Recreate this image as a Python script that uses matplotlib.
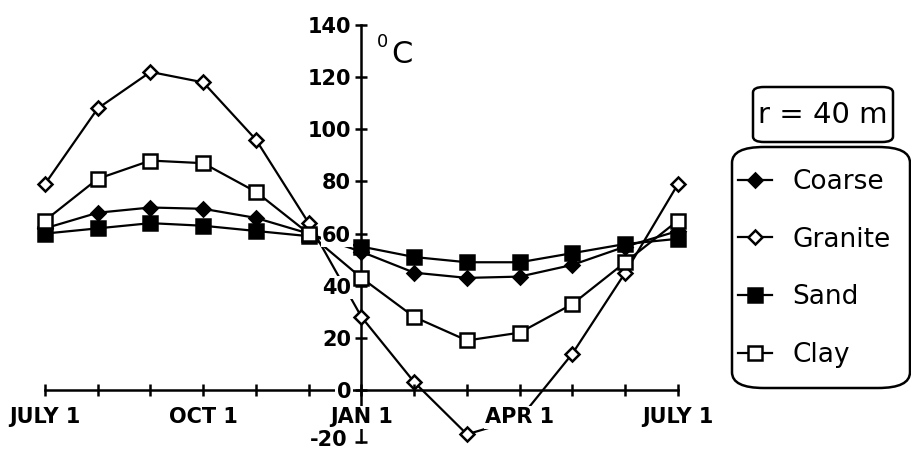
import matplotlib
matplotlib.use("Agg")
import matplotlib.pyplot as plt
from matplotlib.patches import FancyBboxPatch

# Monthly temperatures (deg C), July 1 through the following July 1
months = list(range(13))
month_labels = ["JULY 1", "", "", "OCT 1", "", "", "JAN 1", "", "", "APR 1", "", "", "JULY 1"]
coarse = [62, 68, 70, 69.5, 66, 60, 53, 45, 43, 43.5, 48, 55, 61]
granite = [79, 108, 122, 118, 96, 64, 28, 3, -17, -11, 14, 45, 79]
sand = [60, 62, 64, 63, 61, 59, 55, 51, 49, 49, 52.5, 56, 58]
clay = [65, 81, 88, 87, 76, 60, 43, 28, 19, 22, 33, 49, 65]
y_ticks = [-20, 0, 20, 40, 60, 80, 100, 120, 140]
series_names = ["Coarse", "Granite", "Sand", "Clay"]

plt.rcParams["font.family"] = ["DejaVu Sans"]

W, H = 912, 450
fig = plt.figure(figsize=(W / 100, H / 100), dpi=100)
ax = fig.add_axes([0, 0, 1, 1])
ax.set_xlim(-0.853, 16.436)
ax.set_ylim(-23.01, 149.59)

line_kw = dict(color="black", lw=1.6, markeredgecolor="black", markeredgewidth=1.8, zorder=3)
h_coarse, = ax.plot(months, coarse, marker="D", ms=7.5, markerfacecolor="black", label=series_names[0], **line_kw)
h_granite, = ax.plot(months, granite, marker="D", ms=7.5, markerfacecolor="white", label=series_names[1], **line_kw)
h_sand, = ax.plot(months, sand, marker="s", ms=9.5, markerfacecolor="black", label=series_names[2], **line_kw)
h_clay, = ax.plot(months, clay, marker="s", ms=9.5, markerfacecolor="white", label=series_names[3], **line_kw)

# Axes crossing at JAN 1 / 0 deg
for s in ("top", "right"):
    ax.spines[s].set_visible(False)
ax.spines["left"].set_position(("data", 6))
ax.spines["bottom"].set_position(("data", 0))
ax.spines["left"].set_bounds(-20, 140)
ax.spines["bottom"].set_bounds(0, 12)
for s in ("left", "bottom"):
    ax.spines[s].set_linewidth(1.8)
    ax.spines[s].set_zorder(2.5)

tick_font = dict(fontsize=15, fontweight="bold")
ax.set_xticks(months)
ax.set_xticklabels(month_labels, **tick_font)
ax.set_yticks(y_ticks)
ax.set_yticklabels(["" if v == -20 else str(v) for v in y_ticks], **tick_font)
ax.tick_params(axis="both", direction="inout", length=9, width=1.8)
ax.tick_params(axis="x", pad=8)
ax.tick_params(axis="y", pad=3)
for lab in ax.get_xticklabels() + ax.get_yticklabels():
    lab.set_bbox(dict(facecolor="white", edgecolor="none", pad=1.0))
ax.xaxis.set_zorder(5)
ax.yaxis.set_zorder(5)
# lowest y label sits a little above its tick
ax.annotate("-20", xy=(6, -20), xytext=(-10, 1.5), textcoords="offset points",
            ha="right", va="center", zorder=6, **tick_font)

# unit label
ax.annotate("0", xy=(6, 140), xytext=(11, -12), textcoords="offset points",
            ha="left", va="center", fontsize=13)
ax.annotate("C", xy=(6, 140), xytext=(21.5, -21), textcoords="offset points",
            ha="left", va="center", fontsize=22)

# Radius label box
fig.patches.append(FancyBboxPatch((753 / W, 1 - 142 / H), 140 / W, 55 / H,
                                  boxstyle="round,pad=0,rounding_size=0.012",
                                  transform=fig.transFigure, facecolor="white",
                                  edgecolor="black", lw=1.8, zorder=1))
fig.text(823 / W, 1 - 115 / H, "r = 40 m", fontsize=21, ha="center", va="center")

# Legend frame
fig.patches.append(FancyBboxPatch((732 / W, 1 - 388 / H), 178 / W, 241 / H,
                                  boxstyle="round,pad=0,rounding_size=0.035",
                                  transform=fig.transFigure, facecolor="white",
                                  edgecolor="black", lw=1.8, zorder=1))
leg = fig.legend(handles=[h_coarse, h_granite, h_sand, h_clay], loc="upper left",
                 bbox_to_anchor=(738 / W, 1 - 169 / H), frameon=False, fontsize=19,
                 numpoints=1, handlelength=1.3, handletextpad=0.75, labelspacing=1.2,
                 borderpad=0, borderaxespad=0)

fig.savefig("out.png", dpi=100)
